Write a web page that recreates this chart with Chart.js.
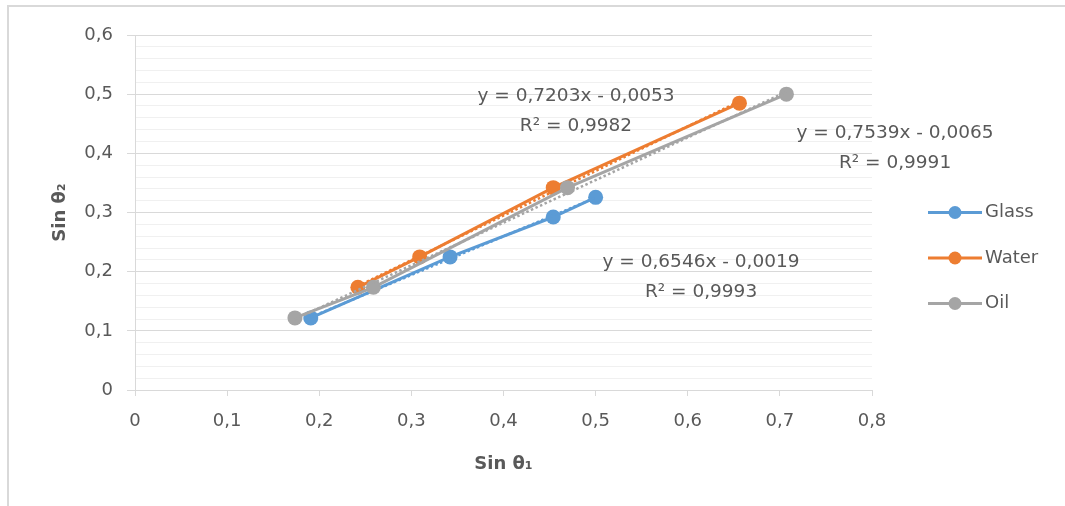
<!DOCTYPE html>
<html>
<head>
<meta charset="utf-8">
<script src="https://cdn.jsdelivr.net/npm/chart.js@4"></script>
<style>
  html, body { margin: 0; padding: 0; background: #ffffff; }
  #wrap { width: 1065px; height: 506px; }
</style>
</head>
<body>
<div id="wrap"><canvas id="c" width="1065" height="506"></canvas></div>
<script>
// ---- data ----
const seriesNames = ["Glass", "Water", "Oil"];
const glassSin1 = [0.1908, 0.3420, 0.4540, 0.5000];
const glassSin2 = [0.1219, 0.2250, 0.2924, 0.3256];
const waterSin1 = [0.2419, 0.3090, 0.4540, 0.6561];
const waterSin2 = [0.1736, 0.2250, 0.3420, 0.4848];
const oilSin1   = [0.1736, 0.2588, 0.4695, 0.7071];
const oilSin2   = [0.1219, 0.1736, 0.3420, 0.5000];
const xTickValues = [0, 0.1, 0.2, 0.3, 0.4, 0.5, 0.6, 0.7, 0.8];
const yTickValues = [0, 0.1, 0.2, 0.3, 0.4, 0.5, 0.6];
const equationLines = [
  ["y = 0,7203x - 0,0053", "R\u00B2 = 0,9982"],
  ["y = 0,7539x - 0,0065", "R\u00B2 = 0,9991"],
  ["y = 0,6546x - 0,0019", "R\u00B2 = 0,9993"]
];

// ---- styling ----
const colors = ["#5B9BD5", "#ED7D31", "#A5A5A5"];
const textColor = "#595959";
const FONT = "'DejaVu Sans', sans-serif";

function pts(xs, ys) { return xs.map((x, i) => ({ x: x, y: ys[i] })); }
function trend(xs, ys) {
  const n = xs.length;
  const mx = xs.reduce((a, b) => a + b, 0) / n;
  const my = ys.reduce((a, b) => a + b, 0) / n;
  let sxy = 0, sxx = 0;
  for (let i = 0; i < n; i++) { sxy += (xs[i] - mx) * (ys[i] - my); sxx += (xs[i] - mx) ** 2; }
  const m = sxy / sxx, b = my - m * mx;
  const x0 = Math.min(...xs), x1 = Math.max(...xs);
  return [{ x: x0, y: m * x0 + b }, { x: x1, y: m * x1 + b }];
}
function fmt(v) {
  const r = Math.round(v * 10) / 10;
  return r === 0 ? "0" : r.toFixed(1).replace(".", ",");
}
function isMajor(v) { return Math.abs(Math.round(v * 10) - v * 10) < 1e-6; }

const xs = [glassSin1, waterSin1, oilSin1];
const ys = [glassSin2, waterSin2, oilSin2];
const datasets = [];
for (let i = 0; i < 3; i++) {
  datasets.push({
    label: seriesNames[i],
    data: pts(xs[i], ys[i]),
    showLine: true,
    borderColor: colors[i],
    backgroundColor: colors[i],
    borderWidth: 3,
    pointRadius: 7.5,
    pointHoverRadius: 7.5,
    pointBorderWidth: 0,
    order: 6 - 2 * i
  });
  datasets.push({
    label: seriesNames[i] + " trend",
    data: trend(xs[i], ys[i]),
    showLine: true,
    borderColor: colors[i],
    borderWidth: 2.5,
    borderDash: [2.5, 2.5],
    pointRadius: 0,
    pointHoverRadius: 0,
    order: 5 - 2 * i
  });
}

const chromePlugin = {
  id: "chrome",
  beforeDraw(chart) {
    const ctx = chart.ctx;
    ctx.save();
    ctx.fillStyle = "#ffffff";
    ctx.fillRect(0, 0, chart.width, chart.height);
    ctx.strokeStyle = "#d9d9d9";
    ctx.lineWidth = 2;
    ctx.beginPath();
    ctx.moveTo(8, chart.height);
    ctx.lineTo(8, 6);
    ctx.lineTo(chart.width, 6);
    ctx.stroke();
    ctx.restore();
  },
  afterDraw(chart) {
    const ctx = chart.ctx;
    const xS = chart.scales.x, yS = chart.scales.y;
    const area = chart.chartArea;
    ctx.save();
    // equation labels
    const anchors = [[0.4787, 0.4715], [0.825, 0.409], [0.6144, 0.191]];
    ctx.fillStyle = textColor;
    ctx.font = "18.5px " + FONT;
    ctx.textAlign = "center";
    ctx.textBaseline = "middle";
    equationLines.forEach((lines, i) => {
      const cx = xS.getPixelForValue(anchors[i][0]);
      const cy = yS.getPixelForValue(anchors[i][1]);
      ctx.fillText(lines[0], cx, cy - 15);
      ctx.fillText(lines[1], cx, cy + 15);
    });
    // legend
    const lx = area.right + 56;
    const ly0 = yS.getPixelForValue(0.3);
    ctx.font = "18px " + FONT;
    ctx.textAlign = "left";
    seriesNames.forEach((name, i) => {
      const y = ly0 + i * 45.5;
      ctx.strokeStyle = colors[i];
      ctx.lineWidth = 3;
      ctx.beginPath();
      ctx.moveTo(lx, y);
      ctx.lineTo(lx + 54, y);
      ctx.stroke();
      ctx.fillStyle = colors[i];
      ctx.beginPath();
      ctx.arc(lx + 27, y, 6.5, 0, Math.PI * 2);
      ctx.fill();
      ctx.fillStyle = textColor;
      ctx.fillText(name, lx + 57, y);
    });
    ctx.restore();
  }
};

new Chart(document.getElementById("c"), {
  type: "scatter",
  data: { datasets: datasets },
  plugins: [chromePlugin],
  options: {
    responsive: false,
    devicePixelRatio: 1,
    animation: false,
    layout: { padding: { top: 35, right: 193, bottom: 0, left: 0 } },
    plugins: { legend: { display: false }, tooltip: { enabled: false } },
    scales: {
      x: {
        type: "linear",
        min: 0, max: 0.8,
        afterBuildTicks(scale) { scale.ticks = xTickValues.map(v => ({ value: v })); },
        afterFit(scale) { scale.height = 116; },
        ticks: {
          color: textColor,
          font: { family: FONT, size: 18 },
          padding: 15,
          maxRotation: 0,
          autoSkip: false,
          callback: (v) => fmt(v)
        },
        grid: { drawOnChartArea: false, drawTicks: true, tickLength: 6, color: "#d9d9d9", tickColor: "#d9d9d9" },
        border: { display: true, color: "#d9d9d9", width: 1 },
        title: {
          display: true,
          text: "Sin \u03B8\u2081",
          color: textColor,
          font: { family: FONT, size: 18, weight: "bold" },
          padding: { top: 4, bottom: 31 }
        }
      },
      y: {
        type: "linear",
        min: 0, max: 0.6,
        afterBuildTicks(scale) {
          const t = [];
          for (let k = 0; k <= 30; k++) t.push({ value: k / 50 });
          scale.ticks = t;
        },
        afterFit(scale) { scale.width = 135; },
        ticks: {
          color: textColor,
          font: { family: FONT, size: 18 },
          padding: 14,
          autoSkip: false,
          callback: (v) => (isMajor(v) && yTickValues.some(t => Math.abs(t - v) < 1e-6)) ? fmt(v) : ""
        },
        grid: {
          drawTicks: true,
          tickLength: 8,
          color: (c) => isMajor(c.tick.value) ? "#d9d9d9" : "#f0f0f0",
          tickColor: (c) => isMajor(c.tick.value) ? "#d9d9d9" : "rgba(0,0,0,0)",
          lineWidth: 1
        },
        border: { display: true, color: "#d9d9d9", width: 1 },
        title: {
          display: true,
          text: "Sin \u03B8\u2082",
          color: textColor,
          font: { family: FONT, size: 18, weight: "bold" },
          padding: { top: 50, bottom: 0 }
        }
      }
    }
  }
});
</script>
</body>
</html>
